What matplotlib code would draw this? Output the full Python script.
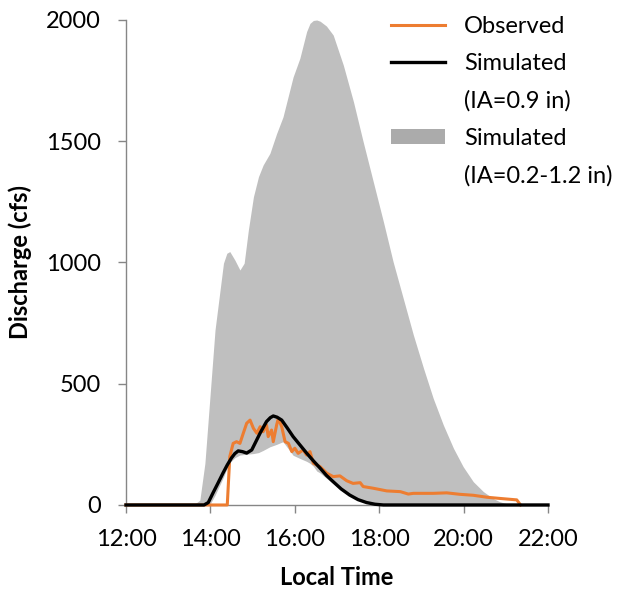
import matplotlib
matplotlib.use("Agg")
import matplotlib.pyplot as plt
from matplotlib.lines import Line2D
from matplotlib.patches import Patch

plt.rcParams['font.family'] = ['Lato', 'DejaVu Sans']
plt.rcParams['font.size'] = 17

# tempo em horas decimais
t_obs = [12.0, 14.40, 14.46, 14.54, 14.62, 14.70, 14.78, 14.86, 14.94, 15.02, 15.10,
         15.18, 15.25, 15.33, 15.37, 15.45, 15.49, 15.57, 15.61, 15.69, 15.77,
         15.85, 15.93, 16.00, 16.08, 16.20, 16.28, 16.36, 16.44, 16.60, 16.76,
         16.91, 17.07, 17.23, 17.38, 17.55, 17.62, 17.86, 18.18, 18.50, 18.69,
         18.81, 19.28, 19.60, 19.91, 20.23, 20.55, 20.86, 21.26, 21.35]
q_obs = [0, 0, 200, 254, 261, 254, 296, 337, 350, 316, 296,
         323, 302, 330, 282, 309, 261, 330, 357, 323, 261,
         254, 220, 234, 213, 227, 206, 220, 172, 158, 131,
         117, 120, 100, 89, 92, 76, 69, 58, 55, 45,
         48, 48, 50, 44, 40, 32, 27, 21, 0]

t_sim = [12.0, 13.85, 13.95, 14.06, 14.18, 14.30, 14.40, 14.50, 14.58, 14.66, 14.76,
         14.86, 14.98, 15.08, 15.18, 15.33, 15.42, 15.49, 15.58, 15.69, 15.82,
         15.96, 16.12, 16.28, 16.44, 16.60, 16.75, 16.91, 17.10, 17.30, 17.50,
         17.70, 17.90, 18.10, 22.0]
q_sim = [0, 0, 10, 49, 90, 132, 165, 194, 212, 223, 220,
         214, 227, 262, 297, 344, 360, 367, 362, 350, 318,
         282, 248, 214, 182, 152, 122, 96, 66, 41, 22,
         10, 3, 0, 0]

t_band = [12.0, 13.60, 13.75, 13.87, 13.99, 14.11, 14.23, 14.31, 14.39, 14.46,
          14.58, 14.70, 14.80, 14.90, 15.02, 15.14, 15.25, 15.41, 15.57, 15.72,
          15.96, 16.12, 16.28, 16.36, 16.44, 16.52, 16.60, 16.75, 16.91, 17.15,
          17.39, 17.62, 17.86, 18.10, 18.33, 18.57, 18.81, 19.05, 19.28, 19.52,
          19.76, 19.99, 20.23, 20.47, 20.70, 20.85, 21.00, 21.10, 22.0]
q_upper = [0, 0, 20, 172, 447, 722, 887, 997, 1038, 1045,
           1010, 969, 997, 1134, 1271, 1354, 1402, 1450, 1532, 1600,
           1765, 1842, 1952, 1986, 1998, 2000, 1995, 1975, 1938, 1814,
           1663, 1498, 1333, 1168, 1003, 852, 701, 564, 440, 330,
           234, 158, 96, 55, 27, 14, 6, 0, 0]
q_lower = [0, 0, 0, 0, 3, 40, 85, 115, 150, 175,
           195, 206, 208, 210, 212, 216, 225, 240, 250, 261,
           205, 192, 180, 172, 160, 140, 132, 110, 88, 55,
           30, 14, 4, 0, 0, 0, 0, 0, 0, 0,
           0, 0, 0, 0, 0, 0, 0, 0, 0]

horas = [12, 14, 16, 18, 20, 22]
rotulos = ["12:00", "14:00", "16:00", "18:00", "20:00", "22:00"]

laranja = "#ED7D31"
cinza = "#BFBFBF"
eixo = "#868686"

fig = plt.figure(figsize=(6.29, 5.95), dpi=100)
ax = fig.add_axes([0.2003, 0.1513, 0.6709, 0.8151])

ax.fill_between(t_band, q_lower, q_upper, color=cinza, linewidth=0)
ax.plot(t_obs, q_obs, color=laranja, lw=2.2, clip_on=False, zorder=3)
ax.plot(t_sim, q_sim, color="black", lw=2.4, clip_on=False, zorder=4)

ax.set_xlim(12, 22)
ax.set_ylim(0, 2000)
ax.set_xticks(horas)
ax.set_xticklabels(rotulos)
ax.set_yticks([0, 500, 1000, 1500, 2000])

for s in ["top", "right"]:
    ax.spines[s].set_visible(False)
for s in ["left", "bottom"]:
    ax.spines[s].set_color(eixo)
    ax.spines[s].set_linewidth(1)
ax.tick_params(axis="y", direction="out", length=6, width=1, color=eixo, pad=12)
ax.tick_params(axis="x", direction="out", length=6, width=1, color=eixo, pad=11)

ax.set_xlabel("Local Time", fontweight="bold", labelpad=12)
ax.set_ylabel("Discharge (cfs)", fontweight="bold", labelpad=10)

vazio = Line2D([], [], color="none")
handles = [Line2D([], [], color=laranja, lw=2.2),
           Line2D([], [], color="black", lw=2.4),
           vazio,
           Patch(facecolor="#ABABAB", edgecolor="none"),
           vazio]
labels = ["Observed", "Simulated", "(IA=0.9 in)", "Simulated", "(IA=0.2-1.2 in)"]
fig.legend(handles, labels, loc="upper left", bbox_to_anchor=(0.621, 0.973),
           frameon=False, borderpad=0, borderaxespad=0, handlelength=2.3,
           handletextpad=0.8, labelspacing=0.68, handleheight=0.6)

fig.savefig("out.png", dpi=100)
